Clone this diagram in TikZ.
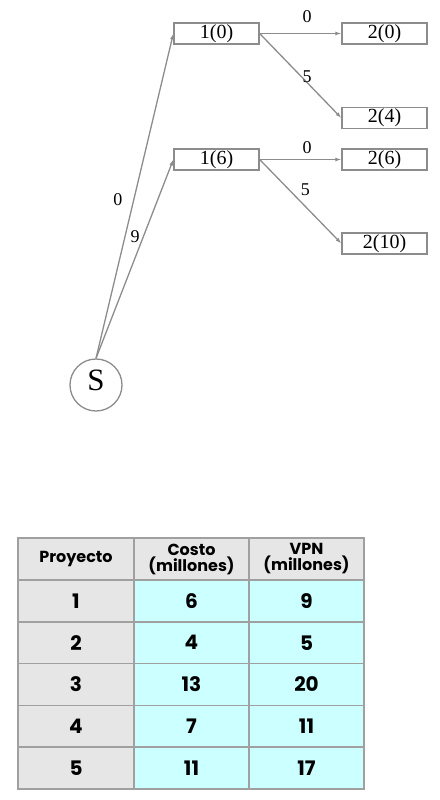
\documentclass[tikz,border=0pt]{standalone}
\usepackage{fontspec}
\setmainfont{Liberation Serif}
\newfontfamily\tabfont{Poppins}
\usetikzlibrary{arrows.meta}
\definecolor{lgray}{HTML}{8C8C8C}
\definecolor{cellgray}{HTML}{E6E6E6}
\definecolor{cellcyan}{HTML}{CCFFFF}
\definecolor{tborder}{HTML}{A0A0A0}
\tikzset{
  box/.style={draw=lgray, line width=1.3pt, rectangle, minimum width=85pt, minimum height=21pt, inner sep=0pt, font=\fontsize{20}{20}\selectfont},
  circ/.style={draw=lgray, line width=1.3pt, circle, minimum size=52pt, inner sep=0pt, font=\fontsize{31}{31}\selectfont, text height=16pt, text depth=6pt},
  arr/.style={draw=lgray, line width=1.3pt, -{Latex[length=6pt,width=4pt]}},
  lbl/.style={font=\fontsize{18}{18}\selectfont, inner sep=0pt},
  tcell/.style={draw=tborder, line width=1.5pt, rectangle, inner sep=0pt, minimum height=41.8pt, font=\tabfont\bfseries\fontsize{20}{20}\selectfont, align=center},
  thead/.style={tcell, fill=cellgray, minimum height=42pt, font=\tabfont\bfseries\fontsize{16}{16}\selectfont},
  tg/.style={tcell, fill=cellgray},
  tc/.style={tcell, fill=cellcyan},
}
\begin{document}
\begin{tikzpicture}[x=1pt, y=-1pt]
\useasboundingbox (0,0) rectangle (439,800);
% graph
\node[circ] (S) at (96,385) {S};
\node[box] (b10) at (216.5,33.5) {1(0)};
\node[box] (b20) at (384.5,33.5) {2(0)};
\node[box] (b24) at (384.5,118) {2(4)};
\node[box] (b16) at (216.5,159.5) {1(6)};
\node[box] (b26) at (384.5,159.5) {2(6)};
\node[box] (b210) at (384.5,243.5) {2(10)};
\draw[arr] (S.north) -- (b10.west) node[lbl, pos=0.49, xshift=-16pt] {0};
\draw[arr] (S.north) -- (b16.west) node[lbl, pos=0.61, xshift=-8pt] {9};
\draw[arr] (b10.east) -- (b20.west) node[lbl, pos=0.58, yshift=16.5pt] {0};
\draw[arr] (b10.east) -- (b24.west) node[lbl, pos=0.58, yshift=6pt] {5};
\draw[arr] (b16.east) -- (b26.west) node[lbl, pos=0.58, yshift=11.5pt] {0};
\draw[arr] (b16.east) -- (b210.west) node[lbl, pos=0.56, yshift=17pt] {5};
% table
\node[thead, minimum width=116pt] (h1) at (76,559) {Proyecto};
\node[thead, minimum width=115pt] (h2) at (191.5,559) {Costo\\(millones)};
\node[thead, minimum width=115pt] (h3) at (306.5,559) {VPN\\(millones)};
\foreach \r/\a/\b/\c in {1/1/6/9, 2/2/4/5, 3/3/13/20, 4/4/7/11, 5/5/11/17} {
  \pgfmathsetmacro{\yy}{580+41.8*(\r-0.5)}
  \node[tg, minimum width=116pt] (r\r a) at (76,\yy) {\a};
  \node[tc, minimum width=115pt] (r\r b) at (191.5,\yy) {\b};
  \node[tc, minimum width=115pt] (r\r c) at (306.5,\yy) {\c};
}
\end{tikzpicture}
\end{document}
